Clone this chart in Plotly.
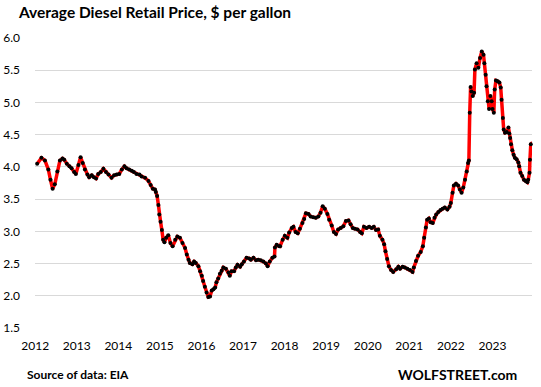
import plotly.graph_objects as go

# Decimal-year positions and weekly-ish average diesel retail price ($/gal)
t = [
    2012.12, 2012.22, 2012.30, 2012.38, 2012.43, 2012.48, 2012.53, 2012.59, 2012.65, 2012.71,
    2012.75, 2012.81, 2012.87, 2012.92, 2012.98, 2013.02, 2013.08, 2013.13, 2013.18, 2013.23,
    2013.29, 2013.33, 2013.39, 2013.44, 2013.49, 2013.54, 2013.60, 2013.66, 2013.72, 2013.78,
    2013.85, 2013.91, 2013.97, 2014.03, 2014.09, 2014.15, 2014.20, 2014.26, 2014.32, 2014.37,
    2014.43, 2014.50, 2014.55, 2014.63, 2014.71, 2014.76, 2014.81, 2014.86,
    2014.88, 2014.91, 2014.94, 2014.96, 2014.99, 2015.02, 2015.05, 2015.08, 2015.12, 2015.17,
    2015.22, 2015.27, 2015.33, 2015.38, 2015.44, 2015.50, 2015.56, 2015.60, 2015.64, 2015.67,
    2015.73, 2015.77, 2015.81, 2015.87, 2015.91, 2015.95, 2015.98, 2016.02, 2016.06, 2016.10,
    2016.14, 2016.18, 2016.22, 2016.26, 2016.29, 2016.33, 2016.37, 2016.41, 2016.45, 2016.51,
    2016.57, 2016.60, 2016.64, 2016.70, 2016.74, 2016.78, 2016.84, 2016.88, 2016.93, 2016.99,
    2017.05, 2017.09, 2017.15, 2017.21, 2017.26, 2017.32, 2017.38, 2017.44, 2017.48, 2017.53,
    2017.59, 2017.64, 2017.65, 2017.69, 2017.75,
    2017.77, 2017.83, 2017.88, 2017.94, 2017.98, 2018.04, 2018.08, 2018.13, 2018.18, 2018.23,
    2018.29, 2018.33, 2018.37, 2018.43, 2018.48, 2018.54, 2018.60, 2018.66, 2018.71, 2018.76,
    2018.81, 2018.87, 2018.91, 2018.97, 2019.02, 2019.07, 2019.12, 2019.18, 2019.24, 2019.30,
    2019.36, 2019.41, 2019.46, 2019.51, 2019.57, 2019.63, 2019.67, 2019.72, 2019.78, 2019.84,
    2019.90, 2019.95, 2020.00, 2020.05, 2020.09, 2020.15, 2020.19, 2020.22, 2020.26, 2020.30,
    2020.35, 2020.40, 2020.47, 2020.52,
    2020.56, 2020.62, 2020.67, 2020.73, 2020.79, 2020.85, 2020.88, 2020.93, 2020.98, 2021.04,
    2021.09, 2021.12, 2021.16, 2021.19, 2021.23, 2021.27, 2021.32, 2021.36, 2021.40, 2021.45,
    2021.50, 2021.55, 2021.60, 2021.66, 2021.71, 2021.74, 2021.78, 2021.81, 2021.86, 2021.91,
    2021.95,
    2021.99, 2022.03, 2022.07, 2022.11, 2022.14, 2022.16, 2022.18, 2022.20, 2022.22, 2022.25,
    2022.28, 2022.30, 2022.34, 2022.38, 2022.42, 2022.46, 2022.50, 2022.52, 2022.55, 2022.57,
    2022.60, 2022.63, 2022.66, 2022.69, 2022.71, 2022.74, 2022.76, 2022.79, 2022.83, 2022.87,
    2022.90, 2022.92, 2022.95, 2022.97, 2023.00, 2023.04, 2023.08, 2023.10, 2023.12, 2023.14,
    2023.17, 2023.20, 2023.23, 2023.27, 2023.31, 2023.33, 2023.36, 2023.40, 2023.44, 2023.48,
    2023.52, 2023.54, 2023.57, 2023.58, 2023.60, 2023.64,
]

price = [
    4.05, 4.14, 4.10, 3.96, 3.80, 3.66, 3.73, 3.93, 4.10, 4.13,
    4.11, 4.05, 4.01, 3.98, 3.92, 3.89, 4.03, 4.15, 4.06, 3.96,
    3.88, 3.84, 3.87, 3.84, 3.82, 3.89, 3.92, 3.97, 3.92, 3.88,
    3.83, 3.87, 3.88, 3.89, 3.96, 4.01, 3.98, 3.96, 3.94, 3.92,
    3.89, 3.88, 3.85, 3.83, 3.78, 3.72, 3.66, 3.65,
    3.61, 3.55, 3.41, 3.26, 3.15, 3.02, 2.87, 2.83, 2.90, 2.94,
    2.82, 2.77, 2.87, 2.92, 2.90, 2.82, 2.74, 2.64, 2.56, 2.51,
    2.49, 2.53, 2.51, 2.46, 2.38, 2.31, 2.23, 2.14, 2.05, 1.98,
    1.99, 2.08, 2.10, 2.13, 2.21, 2.27, 2.34, 2.39, 2.44, 2.42,
    2.36, 2.31, 2.38, 2.38, 2.44, 2.48, 2.45, 2.49, 2.53, 2.59,
    2.58, 2.56, 2.59, 2.55, 2.56, 2.55, 2.53, 2.50, 2.46, 2.53,
    2.59, 2.61, 2.75, 2.79, 2.77,
    2.77, 2.87, 2.93, 2.90, 2.98, 3.05, 3.07, 2.99, 2.97, 3.04,
    3.13, 3.19, 3.28, 3.27, 3.23, 3.22, 3.21, 3.23, 3.29, 3.39,
    3.35, 3.27, 3.18, 3.09, 2.99, 2.96, 3.03, 3.05, 3.08, 3.16,
    3.17, 3.11, 3.05, 3.04, 3.03, 2.99, 2.97, 3.07, 3.05, 3.07,
    3.05, 3.07, 3.02, 3.03, 2.93, 2.87, 2.80, 2.69, 2.57, 2.46,
    2.40, 2.37, 2.41, 2.45,
    2.42, 2.45, 2.44, 2.42, 2.40, 2.37, 2.44, 2.54, 2.62, 2.68,
    2.77, 2.90, 3.06, 3.18, 3.20, 3.14, 3.13, 3.21, 3.26, 3.30,
    3.33, 3.35, 3.37, 3.34, 3.38, 3.44, 3.60, 3.71, 3.74, 3.71,
    3.65,
    3.60, 3.68, 3.80, 3.93, 4.06, 4.10, 4.84, 5.24, 5.17, 5.10,
    5.15, 5.51, 5.61, 5.54, 5.69, 5.79, 5.74, 5.61, 5.43, 5.25,
    5.02, 4.90, 5.10, 5.02, 4.90, 4.84, 5.20, 5.34, 5.33, 5.31,
    5.23, 5.04, 4.76, 4.58, 4.53, 4.54, 4.61, 4.52, 4.45, 4.35,
    4.26, 4.19, 4.14, 4.12, 4.07, 4.01, 3.91, 3.86, 3.80, 3.78,
    3.76, 3.80, 3.91, 4.11, 4.35, 4.38,
]

year_labels = ["2012", "2013", "2014", "2015", "2016", "2017",
               "2018", "2019", "2020", "2021", "2022", "2023"]
label_start = 2012.074
label_step = 0.9667
tick_positions = [label_start + i * label_step for i in range(len(year_labels))]

FONT = "Lato"

fig = go.Figure()
fig.add_trace(go.Scatter(
    x=t, y=price, mode="lines+markers",
    line=dict(color="#ff0000", width=3.5),
    marker=dict(color="#000000", size=4),
    cliponaxis=False,
    hoverinfo="x+y",
))

fig.update_layout(
    width=541, height=387,
    margin=dict(l=35, r=9, t=38, b=59, autoexpand=False),
    plot_bgcolor="white", paper_bgcolor="white",
    showlegend=False,
    font=dict(family=FONT, color="#000000", size=12),
    title=dict(
        text="<b>Average Diesel Retail Price, $ per gallon</b>",
        x=19 / 541, xanchor="left", xref="container",
        y=1 - 13 / 387, yanchor="middle", yref="container",
        font=dict(family=FONT, size=15.5, color="#000000"),
    ),
    annotations=[
        dict(text="<b>Source of data: EIA</b>", xref="paper", yref="paper",
             x=(25 - 35) / 497, y=(327.6 - 374) / 289.3, xanchor="left", yanchor="middle",
             showarrow=False, font=dict(family=FONT, size=12, color="#000000")),
        dict(text="<b>WOLFSTREET.com</b>", xref="paper", yref="paper",
             x=(519 - 35) / 497, y=(327.6 - 374) / 289.3, xanchor="right", yanchor="middle",
             showarrow=False, font=dict(family=FONT, size=14, color="#000000")),
    ],
)

fig.update_xaxes(
    range=[2012.07, 2023.628],
    tickmode="array", tickvals=tick_positions, ticktext=year_labels,
    showgrid=False, zeroline=False, showline=False, ticks="",
    tickfont=dict(family=FONT, size=12, color="#000000"),
    ticklabelstandoff=9, automargin=False,
)
fig.update_yaxes(
    range=[1.5, 6.0], tick0=1.5, dtick=0.5, tickformat=".1f",
    showgrid=True, gridcolor="#d9d9d9", gridwidth=1,
    zeroline=False, showline=False, ticks="",
    tickfont=dict(family=FONT, size=12, color="#000000"),
    ticklabelstandoff=14, automargin=False,
)

fig.write_html("out.html", config={"displayModeBar": False},
               post_script="document.body.style.margin='0';")
